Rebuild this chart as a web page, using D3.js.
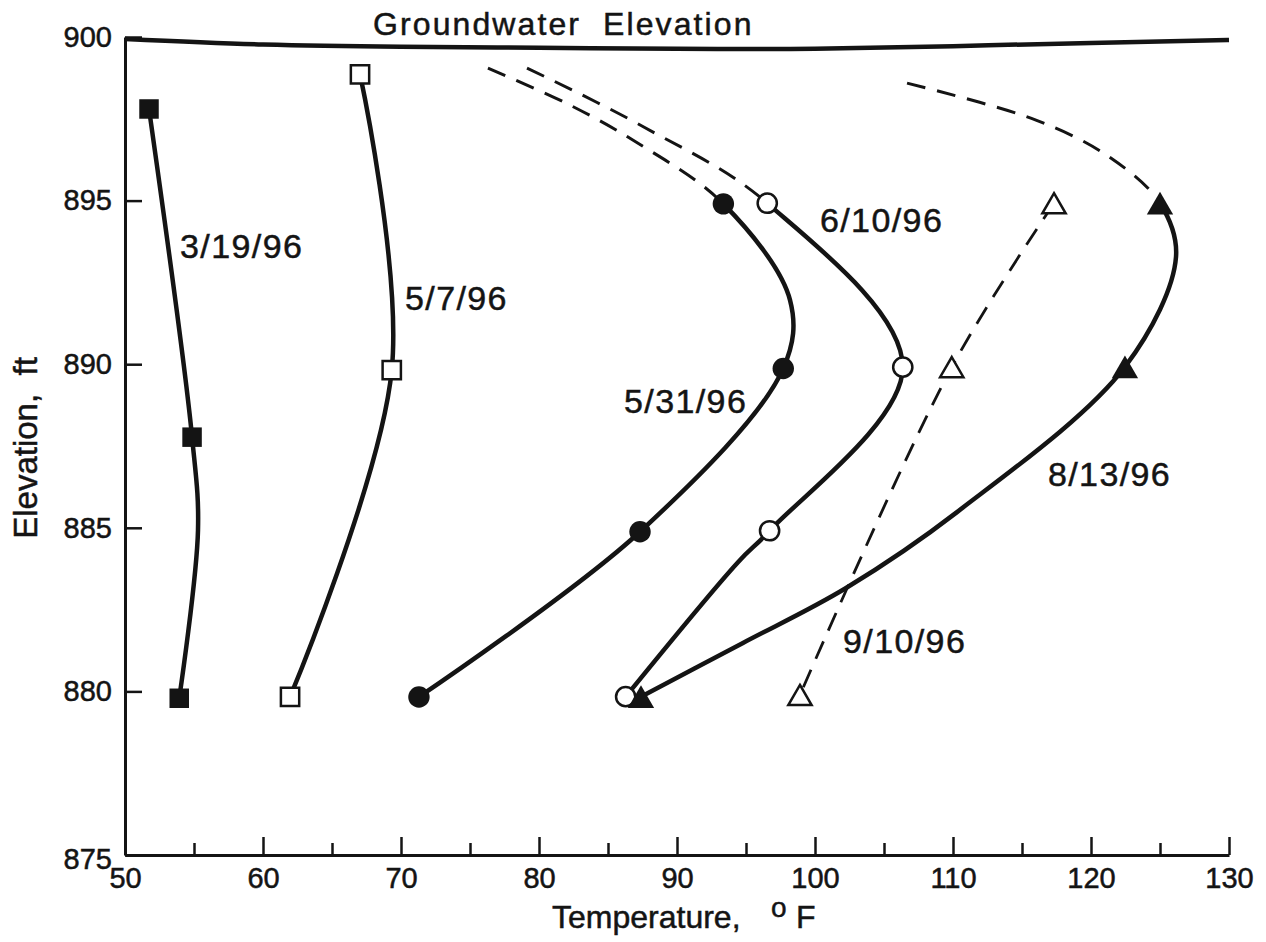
<!DOCTYPE html>
<html>
<head>
<meta charset="utf-8">
<script src="https://cdn.jsdelivr.net/npm/d3@7"></script>
<style>
    body { margin: 0; background: #fff; }
    svg { display: block; font-family: "Liberation Sans", Arial, Helvetica, sans-serif; }
    text { white-space: pre; stroke: #141414; stroke-width: 0.5px; }
</style>
</head>
<body>
<svg width="1266" height="942"></svg>
<script>
(function () {

    // tick values
    var tempTicks = [50, 55, 60, 65, 70, 75, 80, 85, 90, 95, 100, 105, 110, 115, 120, 125, 130],
        elevTicks = [875, 880, 885, 890, 895, 900];

    // survey dates (curve labels)
    var dates = ["3/19/96", "5/7/96", "5/31/96", "6/10/96", "8/13/96", "9/10/96"];

    // [temperature F, elevation ft]
    var groundwater = [[50, 899.94], [60, 899.77], [70, 899.70], [80, 899.67], [90, 899.64],
                       [100, 899.64], [110, 899.72], [120, 899.82], [130, 899.91]];

    var mar19 = [[51.74, 897.80], [54.86, 887.77], [53.93, 879.79]],
        may07 = [[67.03, 898.86], [69.33, 889.82], [61.96, 879.83]],
        may31 = [[93.36, 894.90], [97.70, 889.87], [87.32, 884.88], [71.30, 879.83]],
        jun10 = [[96.54, 894.92], [106.36, 889.91], [96.71, 884.91], [86.28, 879.84]],
        aug13 = [[125.00, 894.92], [122.46, 889.92], [87.39, 879.84]],
        sep10 = [[117.32, 894.92], [109.91, 889.91], [98.91, 879.89]];

    // dashed projections above the top reading
    var may31Up = [[76.30, 899.05], [82.10, 897.95], [87.03, 896.79]],
        jun10Up = [[79.13, 899.05], [87.46, 897.28]],
        aug13Up = [[106.67, 898.59], [116.01, 897.46], [121.23, 896.36]];

    // where the drawn curve swings away from a plain fit (after reading i)
    var mar19Bends = {1: [[55.29, 884.93]]},
        may31Bends = {0: [[98.19, 891.96]]},
        jun10Bends = {2: [[94.42, 883.95]]},
        aug13Bends = {0: [[126.16, 893.28]],
                      1: [[110.29, 885.48], [102.25, 883.16], [94.78, 881.48]]};

    var svg = d3.select("svg"),
        ink = "#141414",
        x = d3.scaleLinear().domain([50, 130]).range([125, 1229]),
        y = d3.scaleLinear().domain([875, 900]).range([855, 37]);

    var line = d3.line()
            .x(function (d) { return x(d[0]); })
            .y(function (d) { return y(d[1]); })
            .curve(d3.curveCatmullRom);

    var series = [
        {date: dates[0], pts: mar19, up: [], bends: mar19Bends, mark: d3.symbolSquare, filled: true, size: 380},
        {date: dates[1], pts: may07, up: [], bends: {}, mark: d3.symbolSquare, filled: false, size: 335},
        {date: dates[2], pts: may31, up: may31Up, bends: may31Bends, mark: d3.symbolCircle, filled: true, size: 360},
        {date: dates[3], pts: jun10, up: jun10Up, bends: jun10Bends, mark: d3.symbolCircle, filled: false, size: 290},
        {date: dates[4], pts: aug13, up: aug13Up, bends: aug13Bends, mark: d3.symbolTriangle, filled: true, size: 300},
        {date: dates[5], pts: sep10, up: [], bends: {}, mark: d3.symbolTriangle, filled: false, size: 235, dashed: true}
    ];

    // label anchors (start of text, baseline) in chart units
    var labelAt = {"3/19/96": [53.99, 893.25], "5/7/96": [70.29, 891.66], "5/31/96": [86.16, 888.52],
                   "6/10/96": [100.36, 894.04], "9/10/96": [102.03, 881.18], "8/13/96": [116.88, 886.28]};

    // axes
    var gy = svg.append("g")
            .attr("transform", "translate(" + x(50) + ",0)")
            .call(d3.axisLeft(y).tickValues(elevTicks).tickSize(-17).tickSizeOuter(0).tickPadding(13));
    var gx = svg.append("g")
            .attr("transform", "translate(0," + y(875) + ")")
            .call(d3.axisBottom(x).tickValues(tempTicks).tickSize(-18).tickSizeOuter(0).tickPadding(12)
                  .tickFormat(function (d) { return d % 10 === 0 ? d : ""; }));
    gx.selectAll(".tick line").attr("y2", function (d) { return d % 10 === 0 ? -18 : -12; });
    [gx, gy].forEach(function (g) {
        g.attr("font-family", null).attr("font-size", null);
        g.select(".domain").attr("stroke", ink).attr("stroke-width", 3);
        g.selectAll(".tick line").attr("stroke", ink).attr("stroke-width", 2.5);
        g.selectAll(".tick text").attr("fill", ink).style("font-size", "29px");
    });
    gy.selectAll(".tick text").filter(function (d) { return d === 875; }).attr("dy", "0.45em");

    // axis titles
    var xt = svg.append("text")
            .attr("x", 552).attr("y", 928)
            .attr("fill", ink).style("font-size", "32px")
            .text("Temperature,");
    xt.append("tspan").attr("x", 771).attr("dy", -11).style("font-size", "28px").text("o");
    xt.append("tspan").attr("x", 796).attr("dy", 11).text("F");

    svg.append("text")
        .attr("transform", "translate(37,448) rotate(-90)")
        .attr("text-anchor", "middle")
        .attr("fill", ink).style("font-size", "33px")
        .text("Elevation,  ft");

    svg.append("text")
        .attr("x", 373).attr("y", 35)
        .attr("fill", ink).style("font-size", "32px").style("letter-spacing", "2.1px")
        .text("Groundwater  Elevation");

    // groundwater surface
    svg.append("path")
        .datum(groundwater)
        .attr("d", line.curve(d3.curveNatural))
        .attr("fill", "none").attr("stroke", ink).attr("stroke-width", 4.5);
    line.curve(d3.curveCatmullRom);

    var trace = function (s) {
            var all = s.up.slice();
            s.pts.forEach(function (p, i) {
                all.push(p);
                if (s.bends[i]) all = all.concat(s.bends[i]);
            });
            return all;
        },
        curves = svg.append("g"),
        marks = svg.append("g");

    series.forEach(function (s) {
        var path = curves.append("path")
                .datum(trace(s))
                .attr("d", line)
                .attr("fill", "none")
                .attr("stroke", ink)
                .attr("stroke-width", s.dashed ? 2.8 : 4.5);
        if (s.dashed) {
            path.attr("stroke-dasharray", "19,12");
            return;
        }
        if (!s.up.length) return;

        // split the single curve into a dashed projection and a solid part at the top reading
        var node = path.node(),
            total = node.getTotalLength(),
            mx = x(s.pts[0][0]), my = y(s.pts[0][1]),
            split = 0, best = Infinity;
        for (var l = 0; l <= total; l += 0.5) {
            var q = node.getPointAtLength(l),
                dd = (q.x - mx) * (q.x - mx) + (q.y - my) * (q.y - my);
            if (dd < best) { best = dd; split = l; }
        }
        path.attr("stroke-dasharray", "0," + split + "," + (total + 1));

        var pattern = [];
        for (var d = 0; d < split - 10; d += 31) pattern.push(19, 12);
        pattern.push(0, total * 2);
        curves.append("path")
            .datum(trace(s))
            .attr("d", line)
            .attr("fill", "none")
            .attr("stroke", ink)
            .attr("stroke-width", 3)
            .attr("stroke-dasharray", pattern.join(","));
    });

    series.forEach(function (s) {
        var sym = d3.symbol().type(s.mark).size(s.size),
            shift = s.mark === d3.symbolTriangle ? Math.sqrt(s.size / (3 * Math.sqrt(3))) / 2 : 0;
        marks.selectAll(null)
            .data(s.pts)
            .enter().append("path")
            .attr("transform", function (d) { return "translate(" + x(d[0]) + "," + (y(d[1]) + shift) + ")"; })
            .attr("d", sym)
            .attr("fill", s.filled ? ink : "#fff")
            .attr("stroke", ink)
            .attr("stroke-width", s.filled ? 0 : 2.5);

        svg.append("text")
            .attr("x", x(labelAt[s.date][0]))
            .attr("y", y(labelAt[s.date][1]))
            .attr("fill", ink)
            .style("font-size", "34px")
            .style("letter-spacing", "1.4px")
            .text(s.date);
    });

})();
</script>
</body>
</html>
